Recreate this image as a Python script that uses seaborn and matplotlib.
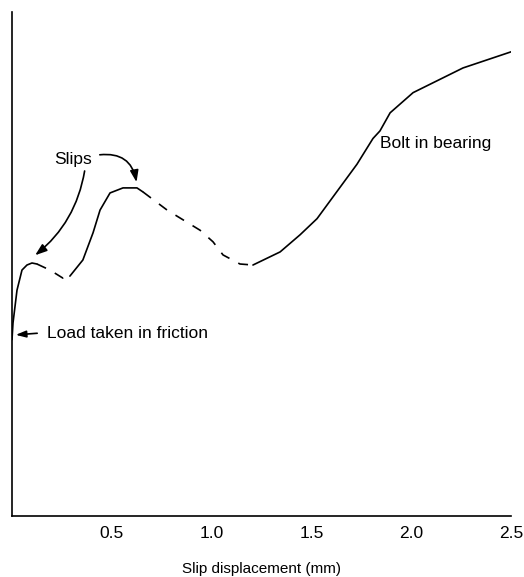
import numpy as np
import pandas as pd
import matplotlib
matplotlib.use("Agg")
import matplotlib.pyplot as plt
import seaborn as sns

sns.set_style("white")
plt.rcParams['font.family'] = ['Liberation Sans', 'DejaVu Sans']
plt.rcParams['text.color'] = 'black'
plt.rcParams['xtick.color'] = 'black'
plt.rcParams['axes.labelcolor'] = 'black'

# Load vs slip curve, split into solid (loaded) and dashed (slipping) parts
friction_x = [0.0, 0.005, 0.025, 0.05, 0.075, 0.10, 0.125]
friction_y = [35.0, 38.3, 44.8, 48.8, 49.8, 50.2, 50.0]

slip1_x = [0.125, 0.19, 0.255, 0.29]
slip1_y = [50.0, 48.8, 47.2, 47.6]

reload_x = [0.29, 0.355, 0.406, 0.441, 0.491, 0.556, 0.626, 0.656]
reload_y = [47.6, 50.8, 56.2, 60.7, 64.1, 65.1, 65.1, 64.3]

slip2_x = [0.656, 0.777, 0.942, 1.007, 1.057, 1.142, 1.207]
slip2_y = [64.3, 60.7, 56.7, 54.4, 51.8, 50.0, 49.8]

bearing_x = [1.207, 1.343, 1.443, 1.528, 1.628, 1.728, 1.808, 1.843, 1.894, 2.009, 2.259, 2.53]
bearing_y = [49.8, 52.4, 55.8, 59.0, 64.4, 69.8, 74.9, 76.4, 80.0, 84.0, 88.9, 92.5]

xticks = [0.5, 1.0, 1.5, 2.0, 2.5]
xtick_labels = ["0.5", "1.0", "1.5", "2.0", "2.5"]

fig = plt.figure(figsize=(5.24, 5.77), dpi=100)
ax = fig.add_axes([0.0229, 0.1057, 0.9525, 0.8735])

solid = [(friction_x, friction_y), (reload_x, reload_y), (bearing_x, bearing_y)]
dashed = [(slip1_x, slip1_y), (slip2_x, slip2_y)]

for xs, ys in solid:
    sns.lineplot(x=xs, y=ys, ax=ax, color="black", lw=1.2, sort=False)
for xs, ys in dashed:
    sns.lineplot(x=xs, y=ys, ax=ax, color="black", lw=1.2, sort=False,
                 linestyle=(0, (6, 6)))

ax.set_xlim(0, 2.5)
ax.set_ylim(0, 100)
ax.set_xticks(xticks)
ax.set_xticklabels(xtick_labels, fontsize=12.5)
ax.set_yticks([])
ax.tick_params(axis="x", direction="in", length=3, pad=7, color="black")
sns.despine(ax=ax)
for s in ["left", "bottom"]:
    ax.spines[s].set_color("black")
    ax.spines[s].set_linewidth(1.2)

ax.set_xlabel("Slip displacement (mm)", fontsize=11, labelpad=15)

# annotations
ax.text(0.21, 70.8, "Slips", fontsize=12.5, va="center", ha="left")
ax.annotate("", xy=(0.105, 51.4), xytext=(0.366, 69.0),
            arrowprops=dict(arrowstyle="-|>,head_length=0.7,head_width=0.25",
                            color="black", lw=1.2,
                            connectionstyle="arc3,rad=-0.2"))
ax.annotate("", xy=(0.626, 65.7), xytext=(0.426, 71.6),
            arrowprops=dict(arrowstyle="-|>,head_length=0.7,head_width=0.25",
                            color="black", lw=1.2,
                            connectionstyle="arc3,rad=-0.5"))

ax.text(0.175, 36.3, "Load taken in friction", fontsize=12.5, va="center", ha="left")
ax.annotate("", xy=(0.005, 35.9), xytext=(0.14, 36.3),
            arrowprops=dict(arrowstyle="-|>,head_length=0.6,head_width=0.2",
                            color="black", lw=1.2))

ax.text(1.844, 74.0, "Bolt in bearing", fontsize=12.5, va="center", ha="left")

fig.savefig("out.png", dpi=100)
